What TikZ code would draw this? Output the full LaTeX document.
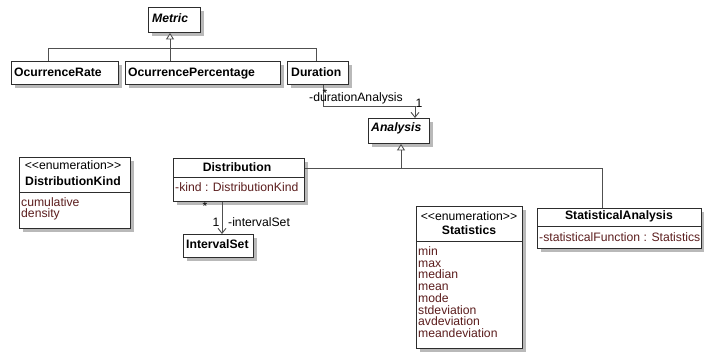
\documentclass[tikz,border=0pt]{standalone}
\usepackage{fontspec}
\setmainfont{Liberation Sans}
\usetikzlibrary{arrows.meta,shadows}
\definecolor{boxc}{RGB}{45,45,45}
\definecolor{linec}{RGB}{80,80,80}
\definecolor{attrc}{RGB}{92,30,30}
\definecolor{shadc}{RGB}{185,185,185}
\newcommand{\umlfont}{\fontsize{12.2}{14}\selectfont}
\newcommand{\enumst}{<\kern0pt<enumeration>\kern0pt>}
\begin{document}
\begin{tikzpicture}[x=1pt,y=-1pt,
  every node/.style={inner sep=0pt, font=\umlfont},
  cls/.style={draw=boxc, fill=white, line width=0.9pt, anchor=north west,
    drop shadow={shadow xshift=4pt, shadow yshift=-4pt, fill=shadc, opacity=1}},
  boxline/.style={draw=boxc, line width=0.9pt},
  txt/.style={text height=8.7pt, text depth=0pt, anchor=west},
  ctxt/.style={text height=8.7pt, text depth=0pt, anchor=center},
  nm/.style={font=\umlfont\bfseries},
  absnm/.style={font=\umlfont\bfseries\itshape},
  attr/.style={text=attrc},
  conn/.style={draw=linec, line width=0.9pt},
  gen/.style={conn, -{Triangle[open, width=8pt, length=6.5pt, fill=white]}},
  assoc/.style={conn, -{Straight Barb[width=8pt, length=5pt]}}
]
\useasboundingbox (0,0) rectangle (704,354);

% ---- class boxes ----
\node[cls, minimum width=52pt, minimum height=25pt] (metric) at (148,7) {};
\node[cls, minimum width=107pt, minimum height=23pt] (orate) at (11,61) {};
\node[cls, minimum width=155pt, minimum height=23pt] (opct) at (125,61) {};
\node[cls, minimum width=61pt, minimum height=23pt] (dur) at (287,61) {};
\node[cls, minimum width=61pt, minimum height=25pt] (analysis) at (368,118) {};
\node[cls, minimum width=131pt, minimum height=43pt] (distr) at (173,158) {};
\node[cls, minimum width=70pt, minimum height=23pt] (iset) at (183,234) {};
\node[cls, minimum width=111pt, minimum height=71pt] (dkind) at (19,157) {};
\node[cls, minimum width=106pt, minimum height=142pt] (stats) at (416,206) {};
\node[cls, minimum width=164pt, minimum height=40pt] (stat) at (537,208) {};

% ---- compartment dividers ----
\draw[boxline] (distr.west |- 0,177) -- (distr.east |- 0,177);
\draw[boxline] (dkind.west |- 0,192) -- (dkind.east |- 0,192);
\draw[boxline] (stats.west |- 0,241) -- (stats.east |- 0,241);
\draw[boxline] (stat.west |- 0,226) -- (stat.east |- 0,226);

% ---- texts ----
\node[txt, absnm] (tmetric) at (152,18) {Metric};
\node[txt, nm] (torate) at (14,72) {OcurrenceRate};
\node[txt, nm] (topct) at (128,72) {OcurrencePercentage};
\node[txt, nm] (tdur) at (291,72) {Duration};
\node[txt, absnm] (tanalysis) at (371,127) {Analysis};
\node[ctxt, nm] (tdistr) at (237,167) {Distribution};
\node[txt, attr] (tkind) at (175,187) {-kind : DistributionKind};
\node[txt, nm] (tiset) at (186,244) {IntervalSet};

\node[ctxt] (tdkst) at (73,165) {\enumst};
\node[ctxt, nm] (tdk) at (73,181) {DistributionKind};
\node[txt, attr] (tdk1) at (21,202) {cumulative};
\node[txt, attr] (tdk2) at (21,213) {density};

\node[ctxt] (tsst) at (469,216) {\enumst};
\node[ctxt, nm] (tss) at (469,230) {Statistics};
\foreach \t [count=\i from 0] in {min,max,median,mean,mode,stdeviation,avdeviation,meandeviation}
  \node[txt, attr] (lit\i) at (418,{251+11.75*\i}) {\t};

\node[ctxt, nm] (tstat) at (619,215) {StatisticalAnalysis};
\node[txt, attr] (tstatf) at (539,237) {-statisticalFunction : Statistics};

% ---- generalizations Metric ----
\coordinate (gj) at (170,48);
\draw[conn] (orate.north -| 48,0) |- (gj);
\draw[conn] (dur.north -| 316,0) |- (gj);
\draw[gen] (opct.north -| gj) -- (metric.south -| gj);

% ---- association Duration -> Analysis ----
\coordinate (a1) at (323,106);
\coordinate (a2) at (415,106);
\draw[assoc] (dur.south -| a1) -- (a1) -- (a2) -- (analysis.north -| a2);
\node[txt] (lda) at (309,97) {-durationAnalysis};
\node[ctxt] (m1) at (325,93) {*};
\node[ctxt] (m2) at (419,103) {1};

% ---- generalizations Analysis ----
\coordinate (aj) at (401,168);
\coordinate (sj) at (602,168);
\draw[gen] (aj) -- (analysis.south -| aj);
\draw[conn] (distr.east |- aj) -- (sj) -- (stat.north -| sj);

% ---- association Distribution -> IntervalSet ----
\coordinate (d1) at (222,0);
\draw[assoc] (distr.south -| d1) -- (iset.north -| d1);
\node[ctxt] (m3) at (205,206) {*};
\node[ctxt] (m4) at (216,222) {1};
\node[txt] (lis) at (228,222) {-intervalSet};
\end{tikzpicture}
\end{document}
